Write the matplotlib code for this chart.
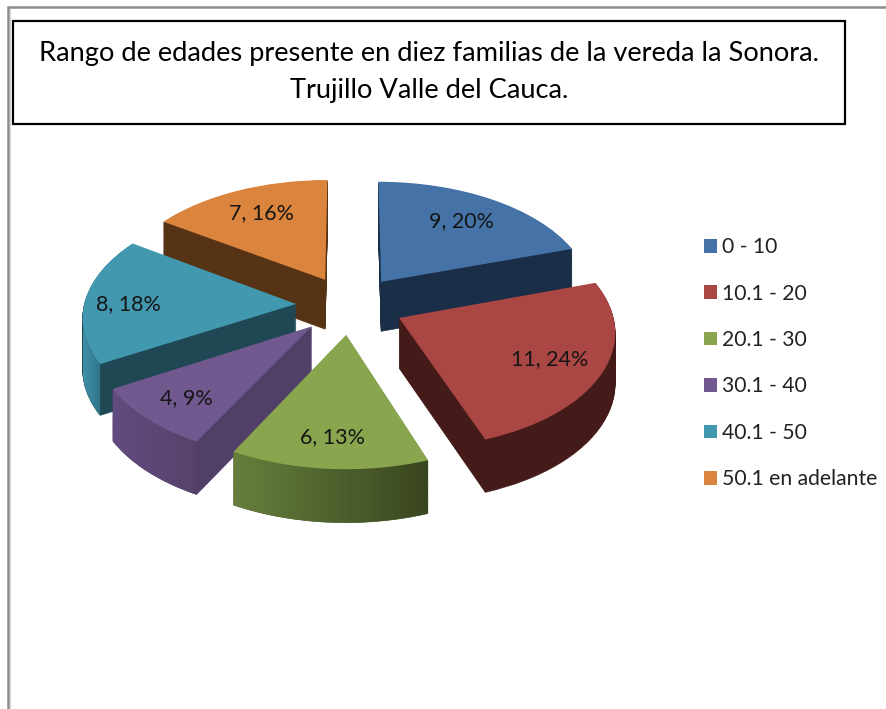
import numpy as np
import matplotlib
matplotlib.use("Agg")
import matplotlib.pyplot as plt
from matplotlib.colors import LinearSegmentedColormap
from matplotlib.patches import Rectangle, Patch
from matplotlib.path import Path
from matplotlib.transforms import Transform

plt.rcParams['font.family'] = ['Lato', 'DejaVu Sans']

title = "Rango de edades presente en diez familias de la vereda la Sonora.\nTrujillo Valle del Cauca."
categories = ["0 - 10", "10.1 - 20", "20.1 - 30", "30.1 - 40", "40.1 - 50", "50.1 en adelante"]
counts = [9, 11, 6, 4, 8, 7]
percents = [20, 24, 13, 9, 18, 16]

top_colors = ["#4572a7", "#aa4643", "#89a54e", "#71588f", "#4198af", "#db843d"]
cut_colors = ["#1b2e48", "#451b19", "#4a5a2a", "#503f66", "#204854", "#573316"]
arc_left = ["#1b2e48", "#451b19", "#667f3c", "#624b80", "#3f90a8", "#573316"]
arc_right = ["#1b2e48", "#451b19", "#3a4620", "#57426a", "#2f7488", "#573316"]
draw_order = [5, 0, 4, 1, 3, 2]
label_xy = [(462, 221), (550, 359), (333, 437), (186, 398), (128, 304), (262, 213)]

CX, CY, R, TILT, PERSP, DEPTH = 350, 305, 212, 0.54, 0.10, 50
EXPLODE = 0.255


class Persp(Transform):
    input_dims = 2
    output_dims = 2
    is_separable = False
    has_inverse = False

    def __init__(self, z=0.0):
        super().__init__()
        self.z = z

    def transform_non_affine(self, values):
        v = np.asarray(values, dtype=float)
        s = 1.0 / (1.0 + PERSP * v[:, 1])
        return np.column_stack([CX + R * v[:, 0] * s,
                                CY - TILT * R * v[:, 1] * s + self.z * DEPTH * np.sqrt(s)])


fig = plt.figure(figsize=(8.87, 7.09), dpi=100, facecolor="white")
ax = fig.add_axes([0, 0, 1, 1])

layers = np.linspace(1, 0, DEPTH + 1)
top_wedges = None
for li, z in enumerate(layers):
    is_top = li == len(layers) - 1
    wedges, _ = ax.pie(counts, explode=[EXPLODE] * len(counts), startangle=90, counterclock=False,
                       colors=top_colors if is_top else cut_colors, radius=1.0)
    tr = Persp(z) + ax.transData
    for i, w in enumerate(wedges):
        w.set_transform(tr)
        w.set_clip_on(False)
        w.set_linewidth(0.4 if not is_top else 0)
        w.set_edgecolor(cut_colors[i] if not is_top else "none")
        rank = draw_order.index(i)
        w.set_zorder(10 + rank * 10 + (5 if is_top else li * 0.01))
    if is_top:
        top_wedges = wedges

# shaded outer rim of the wedges that face the viewer
for i, w in enumerate(top_wedges):
    if arc_left[i] == arc_right[i]:
        continue
    t = np.radians(np.linspace(w.theta1, w.theta2, 160))
    pts = np.column_stack([w.center[0] + np.cos(t), w.center[1] + np.sin(t)])
    xs = Persp(0).transform_non_affine(pts)[:, 0]
    keep = np.sin(t) < 0.0
    k = int(np.argmin(xs))
    if 0 < k < len(t) - 1:
        # the silhouette turns at an inner point: keep only its front side
        keep = np.sin(t) <= np.sin(t[k])
    t = t[keep]
    pts = np.column_stack([w.center[0] + np.cos(t), w.center[1] + np.sin(t)])
    upper = Persp(0).transform_non_affine(pts)
    lower = Persp(1).transform_non_affine(pts)
    poly = np.vstack([upper, lower[::-1], upper[:1]])
    clip = Path(poly)
    x0, x1 = poly[:, 0].min(), poly[:, 0].max()
    y0, y1 = poly[:, 1].min(), poly[:, 1].max()
    cmap = LinearSegmentedColormap.from_list("rim", [arc_left[i], arc_right[i]])
    im = ax.imshow(np.linspace(0, 1, 256).reshape(1, -1), cmap=cmap, aspect="auto",
                   extent=(x0, x1, y1, y0), interpolation="bilinear",
                   zorder=10 + draw_order.index(i) * 10 + 3)
    im.set_clip_path(clip, ax.transData)

ax.set_aspect("auto")
ax.set_xlim(0, 887)
ax.set_ylim(709, 0)
ax.axis("off")

for (x, y), c, p in zip(label_xy, counts, percents):
    ax.text(x, y, f"{c}, {p}%", ha="center", va="center", fontsize=15.5, color="#151515", zorder=100)

# outer frame
ax.plot([8, 8, 887], [709, 7, 7], color="#8c8c8c", lw=1.8, solid_joinstyle="miter", zorder=1)
ax.plot([10, 10], [709, 9], color="#d8d8d8", lw=0.8, zorder=1)

# title box
ax.add_patch(Rectangle((13.5, 21), 832, 102.5, facecolor="white", edgecolor="black", lw=1.6, zorder=2))
ax.text(429, 72, title, ha="center", va="center", fontsize=19.6, color="black",
        linespacing=1.62, zorder=3)

handles = [Patch(facecolor=c, edgecolor="none") for c in top_colors]
fig.legend(handles, categories, loc="upper left", bbox_to_anchor=(700 / 887, 1 - 233 / 709),
           frameon=False, fontsize=15.2, handlelength=0.62, handleheight=0.62,
           handletextpad=0.2, labelspacing=1.25, borderpad=0.2, borderaxespad=0,
           labelcolor="#222222")

fig.savefig("out.png", dpi=100, facecolor="white")
